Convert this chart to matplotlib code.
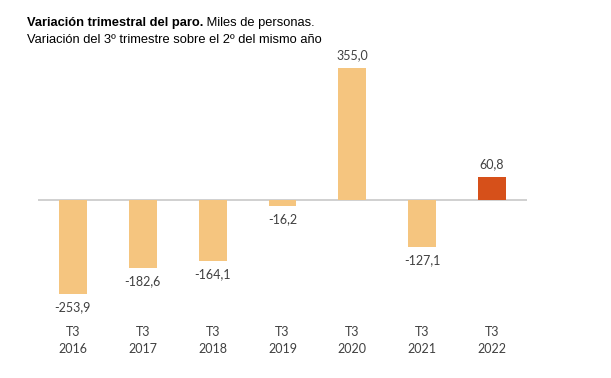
import matplotlib.pyplot as plt

# Datos: variación del paro en el 3er trimestre (miles de personas)
periodos = ["T3\n2016", "T3\n2017", "T3\n2018", "T3\n2019", "T3\n2020", "T3\n2021", "T3\n2022"]
variacion = [-253.9, -182.6, -164.1, -16.2, 355.0, -127.1, 60.8]
etiquetas = ["-253,9", "-182,6", "-164,1", "-16,2", "355,0", "-127,1", "60,8"]

color_claro = "#F5C57F"
color_oscuro = "#D6501A"
colores = [color_claro] * 6 + [color_oscuro]

fig = plt.figure(figsize=(6.11, 3.78), dpi=100)
ax = fig.add_axes([38 / 611, 0.146, (527 - 38) / 611, 0.699])

x = list(range(len(variacion)))
ax.bar(x, variacion, width=0.4, color=colores, zorder=2)
ax.axhline(0, color="#C8C8C8", linewidth=1.2, zorder=1)

for xi, v, t in zip(x, variacion, etiquetas):
    if v >= 0:
        ax.annotate(t, (xi, v), xytext=(0, 5), textcoords="offset points",
                    ha="center", va="bottom", fontsize=9, family="Lato", color="#404040")
    else:
        ax.annotate(t, (xi, v), xytext=(0, -5), textcoords="offset points",
                    ha="center", va="top", fontsize=9, family="Lato", color="#404040")

ax.set_xlim(-0.5, 6.5)
ax.set_ylim(-330, 380)
ax.set_xticks(x)
ax.set_xticklabels(periodos, fontsize=9, family="Lato", color="#404040", linespacing=1.5)
ax.tick_params(axis="x", length=0, pad=2)
ax.set_yticks([])
for s in ax.spines.values():
    s.set_visible(False)

# título en dos partes: negrita + normal
t1 = fig.text(27 / 611, 1 - 26 / 378, "Variación trimestral del paro.", fontsize=9.3,
              fontweight="bold", family="Liberation Sans", va="baseline")
ax.annotate(" Miles de personas.", xy=(1, 0), xycoords=t1, va="bottom",
            fontsize=9.3, family="Liberation Sans", annotation_clip=False)
fig.text(27 / 611, 1 - 43 / 378, "Variación del 3º trimestre sobre el 2º del mismo año",
         fontsize=9.3, family="Liberation Sans", va="baseline")

fig.savefig("out.png", dpi=100)
